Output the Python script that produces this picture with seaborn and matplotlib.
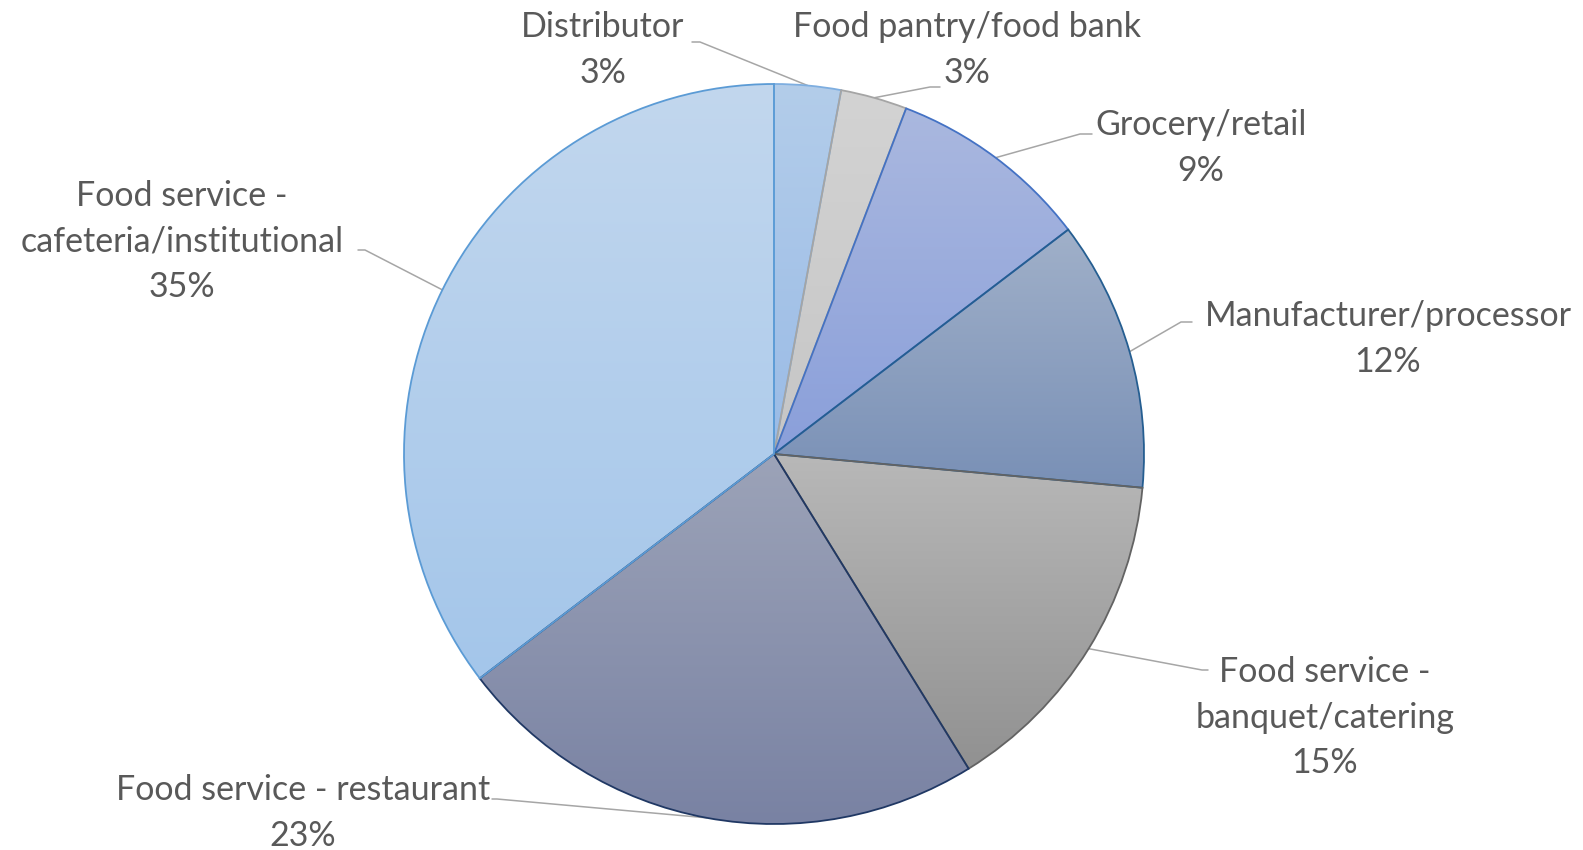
import numpy as np
import matplotlib.pyplot as plt
import matplotlib.colors as mcolors
import seaborn as sns

# ---- data ----
categories = ["Distributor", "Food pantry/food bank", "Grocery/retail",
              "Manufacturer/processor", "Food service -\nbanquet/catering",
              "Food service - restaurant", "Food service -\ncafeteria/institutional"]
shares = [2.9, 2.9, 8.8, 11.8, 14.7, 23.4, 35.3]

# gradient fill per slice (top, bottom) and outline
top_colors = ["#B3CDEA", "#D3D3D3", "#AAB8DF", "#A0B0C9", "#B8B8B8", "#9CA3B8", "#C2D7EE"]
bottom_colors = ["#9ABBE6", "#C6C6C6", "#8A9FDA", "#7990B6", "#919191", "#7982A3", "#A4C6EA"]
edge_colors = ["#7EAEE0", "#A5A5A5", "#4472C4", "#255E91", "#636363", "#203864", "#5B9BD5"]

# label layout in picture pixels: (centre x, y of first line), leader elbow, leader end
label_xy = [(603, 27), (967, 27), (1201, 125), (1388, 316), (1325, 672), (303, 790), (182, 196)]
elbow_xy = [(700, 42), (930, 87), (1080, 134), (1181, 322), (1202, 670), (497, 799), (365, 250)]
tick_end_xy = [(692, 42), (940, 87), (1092, 134), (1192, 322), (1208, 670), (492, 799), (358, 250)]

W, H = 1583, 850
cx, cy, R = 774, H - 454, 370
line_pitch = 45.5
text_color = "#595959"
fs = 24.5

sns.set_theme(style="white")
plt.rcParams['font.family'] = ['Lato', 'DejaVu Sans']

fig = plt.figure(figsize=(W / 100, H / 100), dpi=100)
ax = fig.add_axes([0, 0, 1, 1])

wedges, _ = ax.pie(shares, startangle=90, counterclock=False, center=(cx, cy), radius=R,
                   colors=["none"] * len(shares), wedgeprops=dict(linewidth=1.3))

# gradient fill clipped to each wedge
grad = np.linspace(0, 1, 256).reshape(-1, 1)
for w, top, bot, ec in zip(wedges, top_colors, bottom_colors, edge_colors):
    w.set_edgecolor(ec)
    w.set_zorder(3)
    ext = w.get_path().get_extents()
    cmap = mcolors.LinearSegmentedColormap.from_list("g", [bot, top])
    im = ax.imshow(grad, cmap=cmap, origin="lower", aspect="auto", zorder=2,
                   extent=[ext.x0, ext.x1, ext.y0, ext.y1], interpolation="bilinear")
    im.set_clip_path(w)

# labels + leader lines
for w, name, v, (lx, ly), (ex, ey), (tx, ty) in zip(wedges, categories, shares,
                                                     label_xy, elbow_xy, tick_end_xy):
    lines = name.split("\n") + [f"{v:.0f}%"]
    for j, s in enumerate(lines):
        ax.text(lx, H - (ly + j * line_pitch), s, ha="center", va="center",
                fontsize=fs, color=text_color)
    mid = np.deg2rad((w.theta1 + w.theta2) / 2)
    px, py = cx + R * np.cos(mid), cy + R * np.sin(mid)
    ax.plot([px, ex, tx], [py, H - ey, H - ty], color="#A6A6A6", lw=1.1, zorder=1)

ax.set_xlim(0, W)
ax.set_ylim(0, H)
ax.set_aspect("equal")
ax.axis("off")

fig.savefig("out.png", dpi=100, facecolor="white")
